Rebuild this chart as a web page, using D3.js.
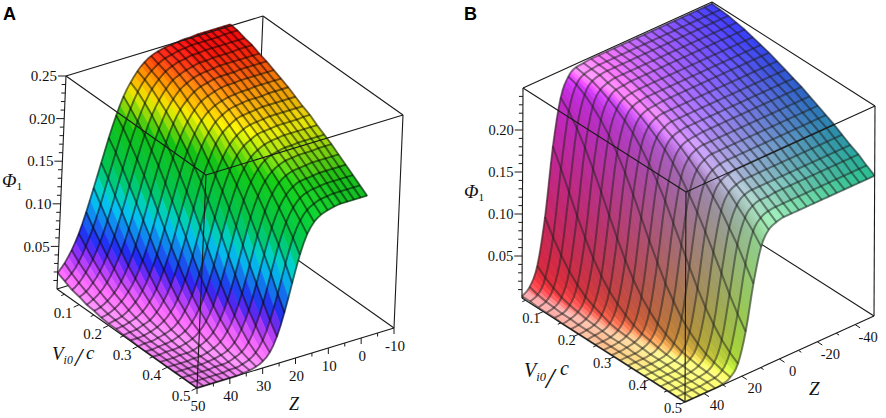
<!DOCTYPE html>
<html>
<head>
<meta charset="utf-8">
<script src="https://cdn.jsdelivr.net/npm/d3@7/dist/d3.min.js"></script>
<style>
html,body{margin:0;padding:0;background:#fff;}
svg{display:block;}
</style>
</head>
<body>
<svg id="chart" width="886" height="418"></svg>
<script>
// ================= DATA =================
// Panel A : Phi1 over (Vi0/c , Z)
const vA = [0.025,0.05,0.075,0.1,0.125,0.15,0.175,0.2,0.225,0.25,0.275,0.3,0.325,0.35,0.375,0.4,0.425,0.45,0.475,0.5];
const zA = [50,48,46,44,42,40,38,36,34,32,30,28,26,24,22,20,18,16,14,12,10,8,6,4,2,0];
const phiA = [
 [0.019,0.028,0.041,0.058,0.081,0.107,0.134,0.161,0.185,0.205,0.219,0.230,0.238,0.243,0.246,0.248,0.249,0.250,0.251,0.251,0.252,0.252,0.252,0.252,0.252,0.252],
 [0.015,0.022,0.033,0.049,0.069,0.094,0.122,0.150,0.176,0.197,0.214,0.226,0.234,0.240,0.244,0.246,0.248,0.249,0.250,0.250,0.250,0.250,0.250,0.251,0.251,0.251],
 [0.011,0.017,0.027,0.040,0.058,0.081,0.108,0.137,0.164,0.188,0.207,0.221,0.230,0.237,0.241,0.244,0.245,0.247,0.247,0.248,0.248,0.248,0.248,0.248,0.248,0.248],
 [0.009,0.013,0.021,0.032,0.048,0.069,0.095,0.123,0.152,0.178,0.199,0.214,0.225,0.233,0.237,0.240,0.242,0.244,0.244,0.245,0.245,0.245,0.245,0.246,0.246,0.246],
 [0.006,0.010,0.016,0.025,0.039,0.057,0.081,0.109,0.139,0.166,0.189,0.207,0.219,0.228,0.233,0.237,0.239,0.240,0.241,0.242,0.242,0.242,0.242,0.242,0.242,0.242],
 [0.005,0.007,0.012,0.019,0.030,0.046,0.068,0.095,0.125,0.154,0.179,0.199,0.213,0.222,0.229,0.233,0.235,0.237,0.238,0.238,0.238,0.239,0.239,0.239,0.239,0.239],
 [0.003,0.005,0.009,0.015,0.024,0.037,0.056,0.081,0.110,0.140,0.167,0.189,0.205,0.216,0.224,0.228,0.231,0.233,0.234,0.234,0.235,0.235,0.235,0.235,0.235,0.235],
 [0.002,0.004,0.006,0.011,0.018,0.029,0.045,0.067,0.095,0.125,0.154,0.179,0.197,0.210,0.218,0.223,0.226,0.228,0.229,0.230,0.230,0.231,0.231,0.231,0.231,0.231],
 [0.002,0.003,0.005,0.008,0.013,0.022,0.035,0.055,0.080,0.110,0.140,0.167,0.188,0.202,0.212,0.218,0.222,0.224,0.225,0.226,0.226,0.226,0.227,0.227,0.227,0.227],
 [0.001,0.002,0.003,0.006,0.009,0.016,0.027,0.043,0.066,0.095,0.126,0.155,0.177,0.195,0.206,0.212,0.217,0.219,0.220,0.221,0.222,0.222,0.222,0.222,0.222,0.222],
 [0.001,0.001,0.002,0.004,0.007,0.012,0.020,0.033,0.053,0.079,0.110,0.140,0.166,0.185,0.198,0.206,0.211,0.214,0.215,0.216,0.217,0.217,0.217,0.217,0.217,0.217],
 [0.000,0.001,0.001,0.003,0.005,0.008,0.014,0.025,0.041,0.064,0.094,0.125,0.154,0.176,0.191,0.200,0.205,0.209,0.210,0.211,0.212,0.212,0.212,0.212,0.213,0.213],
 [0.000,0.000,0.001,0.002,0.003,0.006,0.010,0.018,0.031,0.051,0.078,0.110,0.140,0.165,0.182,0.193,0.199,0.203,0.205,0.206,0.207,0.207,0.207,0.207,0.207,0.207],
 [0.000,0.000,0.001,0.001,0.002,0.004,0.007,0.013,0.023,0.039,0.063,0.093,0.125,0.153,0.172,0.185,0.193,0.197,0.199,0.201,0.201,0.202,0.202,0.202,0.202,0.202],
 [0.000,0.000,0.000,0.001,0.001,0.002,0.005,0.009,0.016,0.029,0.049,0.077,0.109,0.139,0.162,0.177,0.186,0.191,0.194,0.195,0.196,0.196,0.196,0.197,0.197,0.197],
 [0.000,0.000,0.000,0.000,0.001,0.001,0.003,0.006,0.011,0.021,0.037,0.061,0.092,0.124,0.150,0.168,0.179,0.185,0.188,0.189,0.190,0.191,0.191,0.191,0.191,0.191],
 [0.000,0.000,0.000,0.000,0.000,0.001,0.002,0.004,0.007,0.014,0.027,0.047,0.076,0.108,0.137,0.158,0.171,0.178,0.182,0.183,0.184,0.185,0.185,0.185,0.185,0.185],
 [0.000,0.000,0.000,0.000,0.000,0.001,0.001,0.002,0.005,0.009,0.018,0.035,0.060,0.092,0.123,0.147,0.162,0.171,0.175,0.177,0.178,0.179,0.179,0.179,0.179,0.179],
 [0.000,0.000,0.000,0.000,0.000,0.000,0.001,0.001,0.003,0.006,0.012,0.024,0.045,0.074,0.107,0.135,0.153,0.163,0.168,0.171,0.172,0.173,0.173,0.173,0.173,0.173],
 [0.000,0.000,0.000,0.000,0.000,0.000,0.000,0.001,0.002,0.004,0.008,0.016,0.032,0.058,0.090,0.121,0.143,0.155,0.161,0.164,0.166,0.167,0.167,0.167,0.167,0.167]
];
const phiTicksA = [0.05,0.10,0.15,0.20,0.25];
const phiLabelsA = ["0.05","0.10","0.15","0.20","0.25"];
const vTicksA = [0.1,0.2,0.3,0.4,0.5];
const vLabelsA = ["0.1","0.2","0.3","0.4","0.5"];
const zTicksA = [50,40,30,20,10,0,-10];
const zLabelsA = ["50","40","30","20","10","0","-10"];

// Panel B : Phi1 over (Vi0/c , Z)
const vB = [0.04,0.063,0.086,0.109,0.132,0.155,0.178,0.201,0.224,0.247,0.27,0.293,0.316,0.339,0.362,0.385,0.408,0.431,0.454,0.477,0.5];
const zB = [50,46,42,38,34,30,26,22,18,14,10,6,2,-2,-6,-10,-14,-18,-22,-26,-30,-34,-38,-42,-46,-50];
const phiB = [
 [0.002,0.009,0.030,0.084,0.164,0.218,0.239,0.246,0.247,0.248,0.248,0.248,0.248,0.248,0.248,0.248,0.248,0.248,0.248,0.248,0.248,0.248,0.248,0.248,0.248,0.248],
 [0.002,0.006,0.022,0.066,0.144,0.208,0.236,0.244,0.246,0.247,0.247,0.247,0.247,0.247,0.247,0.247,0.247,0.247,0.247,0.247,0.247,0.247,0.247,0.247,0.247,0.247],
 [0.001,0.004,0.016,0.051,0.122,0.194,0.230,0.242,0.245,0.246,0.246,0.246,0.246,0.246,0.246,0.246,0.246,0.246,0.246,0.246,0.246,0.246,0.246,0.246,0.246,0.246],
 [0.001,0.003,0.011,0.038,0.100,0.177,0.222,0.238,0.242,0.244,0.244,0.244,0.244,0.244,0.244,0.244,0.244,0.244,0.244,0.244,0.244,0.244,0.244,0.244,0.244,0.244],
 [0.001,0.002,0.008,0.028,0.080,0.158,0.212,0.233,0.240,0.241,0.242,0.242,0.242,0.242,0.242,0.242,0.242,0.242,0.242,0.242,0.242,0.242,0.242,0.242,0.242,0.242],
 [0.000,0.002,0.006,0.020,0.062,0.137,0.200,0.227,0.236,0.238,0.239,0.239,0.239,0.239,0.239,0.239,0.239,0.239,0.239,0.239,0.239,0.239,0.239,0.239,0.239,0.239],
 [0.000,0.001,0.004,0.015,0.047,0.115,0.185,0.220,0.232,0.235,0.236,0.236,0.236,0.236,0.236,0.236,0.236,0.236,0.236,0.236,0.236,0.236,0.236,0.236,0.236,0.236],
 [0.000,0.001,0.003,0.011,0.035,0.094,0.168,0.211,0.227,0.231,0.232,0.233,0.233,0.233,0.233,0.233,0.233,0.233,0.233,0.233,0.233,0.233,0.233,0.233,0.233,0.233],
 [0.000,0.001,0.002,0.007,0.026,0.074,0.148,0.200,0.221,0.227,0.229,0.229,0.229,0.229,0.229,0.229,0.229,0.229,0.229,0.229,0.229,0.229,0.229,0.229,0.229,0.229],
 [0.000,0.000,0.001,0.005,0.019,0.057,0.127,0.187,0.214,0.222,0.225,0.225,0.225,0.225,0.225,0.225,0.225,0.225,0.225,0.225,0.225,0.225,0.225,0.225,0.225,0.225],
 [0.000,0.000,0.001,0.004,0.013,0.043,0.106,0.172,0.206,0.217,0.220,0.221,0.221,0.221,0.221,0.221,0.221,0.221,0.221,0.221,0.221,0.221,0.221,0.221,0.221,0.221],
 [0.000,0.000,0.001,0.003,0.009,0.032,0.086,0.155,0.196,0.211,0.215,0.216,0.217,0.217,0.217,0.217,0.217,0.217,0.217,0.217,0.217,0.217,0.217,0.217,0.217,0.217],
 [0.000,0.000,0.000,0.002,0.007,0.023,0.067,0.135,0.185,0.204,0.210,0.212,0.212,0.212,0.212,0.212,0.212,0.212,0.212,0.212,0.212,0.212,0.212,0.212,0.212,0.212],
 [0.000,0.000,0.000,0.001,0.005,0.017,0.052,0.115,0.171,0.196,0.204,0.207,0.207,0.207,0.207,0.207,0.207,0.207,0.207,0.207,0.207,0.207,0.207,0.207,0.207,0.207],
 [0.000,0.000,0.000,0.001,0.003,0.012,0.038,0.095,0.156,0.188,0.198,0.201,0.202,0.202,0.202,0.202,0.202,0.202,0.202,0.202,0.202,0.202,0.202,0.202,0.202,0.202],
 [0.000,0.000,0.000,0.001,0.002,0.008,0.028,0.076,0.139,0.177,0.191,0.195,0.197,0.197,0.197,0.197,0.197,0.197,0.197,0.197,0.197,0.197,0.197,0.197,0.197,0.197],
 [0.000,0.000,0.000,0.000,0.002,0.006,0.020,0.059,0.121,0.166,0.184,0.189,0.191,0.191,0.191,0.191,0.191,0.191,0.191,0.191,0.191,0.191,0.191,0.191,0.191,0.191],
 [0.000,0.000,0.000,0.000,0.001,0.004,0.014,0.045,0.102,0.152,0.175,0.183,0.185,0.185,0.185,0.185,0.185,0.185,0.185,0.185,0.185,0.185,0.185,0.185,0.185,0.185],
 [0.000,0.000,0.000,0.000,0.001,0.003,0.010,0.033,0.083,0.138,0.166,0.176,0.179,0.179,0.180,0.180,0.180,0.180,0.180,0.180,0.180,0.180,0.180,0.180,0.180,0.180],
 [0.000,0.000,0.000,0.000,0.001,0.002,0.007,0.024,0.066,0.121,0.156,0.168,0.172,0.173,0.173,0.173,0.173,0.173,0.173,0.173,0.173,0.173,0.173,0.173,0.173,0.173],
 [0.000,0.000,0.000,0.000,0.000,0.001,0.005,0.017,0.051,0.104,0.144,0.160,0.165,0.167,0.167,0.167,0.167,0.167,0.167,0.167,0.167,0.167,0.167,0.167,0.167,0.167]
];
const phiTicksB = [0.05,0.10,0.15,0.20];
const phiLabelsB = ["0.05","0.10","0.15","0.20"];
const vTicksB = [0.1,0.2,0.3,0.4,0.5];
const vLabelsB = ["0.1","0.2","0.3","0.4","0.5"];
const zTicksB = [40,20,0,-20,-40];
const zLabelsB = ["40","20","0","-20","-40"];

// ================= RENDERING =================
const SERIF = '"Liberation Serif","Times New Roman",Times,serif';
const SANS = '"Liberation Sans",Arial,Helvetica,sans-serif';
const svg = d3.select('#chart');
const norm = v => { const l = Math.hypot(v[0],v[1],v[2]) || 1; return [v[0]/l, v[1]/l, v[2]/l]; };
const dot = (a,b) => a[0]*b[0]+a[1]*b[1]+a[2]*b[2];
const clamp01 = x => Math.max(0, Math.min(1, x));

// monotone cubic (same slope rule as d3.curveMonotoneX) used only to draw smooth rows
function monotone(xs, ys, S) {
  const n = xs.length, d = [], m = [];
  for (let j = 0; j < n - 1; j++) d.push((ys[j+1]-ys[j])/(xs[j+1]-xs[j]));
  for (let j = 0; j < n; j++) {
    if (j === 0) m.push(d[0]);
    else if (j === n-1) m.push(d[n-2]);
    else {
      const s0 = d[j-1], s1 = d[j], p = (s0+s1)/2;
      m.push(((Math.sign(s0)+Math.sign(s1)) * Math.min(Math.abs(s0), Math.abs(s1), 0.5*Math.abs(p))) || 0);
    }
  }
  const ox = [], oy = [];
  for (let j = 0; j < n - 1; j++) {
    const hh = xs[j+1]-xs[j];
    for (let t = 0; t < S; t++) {
      const s = t/S, s2 = s*s, s3 = s2*s;
      ox.push(xs[j] + s*hh);
      oy.push((2*s3-3*s2+1)*ys[j] + (s3-2*s2+s)*hh*m[j] + (-2*s3+3*s2)*ys[j+1] + (s3-s2)*hh*m[j+1]);
    }
  }
  ox.push(xs[n-1]); oy.push(ys[n-1]);
  return {x: ox, y: oy};
}

// colour schemes
const hueRamp = d3.scaleLinear()
  .domain([0, 0.08, 0.15, 0.22, 0.4, 0.52, 0.72, 0.84, 0.92, 0.98, 1])
  .range(['#ff86ff', '#f466ff', '#a634ff', '#2626ff', '#00e4ff', '#00d45a', '#14cc14', '#f2f000', '#ff9000', '#ff1400', '#ff0000'])
  .clamp(true);
const LA = norm([0.25,-0.6,0.75]), HA = norm([0.1,-0.3,1]);
function colorA(a, b, h, N) {
  const base = d3.rgb(hueRamp(h));
  const diff = Math.max(0, dot(N, LA));
  const f = 0.5 + 0.52*diff;
  const s = 255*0.1*Math.pow(Math.max(0, dot(N, HA)), 20);
  return d3.rgb(base.r*f+s, base.g*f+s, base.b*f+s).formatRgb();
}
const LB = norm([-0.25,-0.35,1]), HB = norm([0,-0.3,1]);
function colorB(a, b, h, N) {
  const base = [255*(1-b), 255*a*a, 255*Math.min(1,h)];
  const diff = Math.max(0, dot(N, LB));
  const f = (0.6 + 0.3*diff) * (1 - 0.25*a*b);
  const glare = 0.55*Math.pow(Math.max(0, dot(N, HB)), 6)*clamp01(1.15 - 0.95*b - 0.35*a);
  const s = 255*(0.15 + glare);
  return d3.rgb(base[0]*f+s, base[1]*f+s, base[2]*f+s).formatRgb();
}

const panels = [
  { V: vA, Z: zA, phi: phiA, vDom: [0.025, 0.5], zDom: [50, -10], pDom: [0, 0.25],
    O: [57, 289], U: [140, 99], W: [197, -60], H: [9, -213], sub: 2, color: colorA,
    mesh: {c: '#000', o: 0.5, w: 1.9},
    phiT: phiTicksA, phiL: phiLabelsA, vT: vTicksA, vL: vLabelsA, zT: zTicksA, zL: zLabelsA,
    vDir: [-0.9, 0.43], vOff: [-16, 8], zDir: [0, 1], zOff: [1, 18], fs: 15,
    letter: {t: 'A', x: 3, y: 20},
    phiTitle: {x: 2, y: 187, fs: 19},
    vTitle: {x: 52, y: 360, fs: 19, sx: 75, sy: 366, sfs: 26, cx: 86, cy: 359},
    zTitle: {x: 289, y: 410, fs: 18} },
  { V: vB, Z: zB, phi: phiB, vDom: [0.04, 0.5], zDom: [50, -50], pDom: [0, 0.25],
    O: [522, 298], U: [163, 104], W: [189, -86], H: [1, -210], sub: 4, color: colorB,
    mesh: {c: '#1e1e1e', o: 0.5, w: 2.0},
    phiT: phiTicksB, phiL: phiLabelsB, vT: vTicksB, vL: vLabelsB, zT: zTicksB, zL: zLabelsB,
    vDir: [-0.91, 0.41], vOff: [-12, 6], zDir: [0.84, 0.54], zOff: [13, 12], fs: 14.5,
    letter: {t: 'B', x: 464, y: 20},
    phiTitle: {x: 464, y: 198, fs: 19},
    vTitle: {x: 524, y: 377, fs: 20, sx: 546, sy: 388, sfs: 30, cx: 560, cy: 375},
    zTitle: {x: 809, y: 395, fs: 19} }
];

function drawPanel(c) {
  const g = svg.append('g');
  const uS = d3.scaleLinear().domain(c.vDom).range([0, 1]);
  const wS = d3.scaleLinear().domain(c.zDom).range([0, 1]);
  const hS = d3.scaleLinear().domain(c.pDom).range([0, 1]);
  const P = (a, b, h) => [c.O[0] + a*c.U[0] + b*c.W[0] + h*c.H[0], c.O[1] + a*c.U[1] + b*c.W[1] + h*c.H[1]];
  let n = [c.W[0]*c.H[1] - c.H[0]*c.W[1], c.H[0]*c.U[1] - c.U[0]*c.H[1], c.U[0]*c.W[1] - c.W[0]*c.U[1]];
  if (n[2] > 0) n = n.map(x => -x);
  const line = d3.line();

  const gBack = g.append('g'), gSurf = g.append('g'), gMesh = g.append('g'), gFront = g.append('g'), gAx = g.append('g');

  // box
  const verts = [];
  for (const a of [0, 1]) for (const b of [0, 1]) for (const h of [0, 1]) verts.push([a, b, h]);
  const edges = [];
  verts.forEach((p, i) => verts.forEach((q, j) => {
    if (j > i && Math.abs(p[0]-q[0]) + Math.abs(p[1]-q[1]) + Math.abs(p[2]-q[2]) === 1) edges.push([p, q]);
  }));
  const isBack = e => e.some(p => p[0] === 0 && p[1] === 1 && p[2] === 0);
  const drawEdges = (sel, list) => sel.selectAll('line').data(list).join('line')
    .attr('x1', e => P(...e[0])[0]).attr('y1', e => P(...e[0])[1])
    .attr('x2', e => P(...e[1])[0]).attr('y2', e => P(...e[1])[1])
    .attr('stroke', '#1a1a1a').attr('stroke-width', 1.1);
  drawEdges(gBack, edges.filter(isBack));
  drawEdges(gFront, edges.filter(e => !isBack(e)));

  // surface
  const rows = c.phi.map(r => monotone(c.Z, r, c.sub));
  const pts = rows.map((r, i) => r.x.map((z, k) => {
    const a = uS(c.V[i]), b = wS(z), h = hS(r.y[k]);
    return {a, b, h, xy: P(a, b, h)};
  }));
  const quads = [];
  for (let i = 0; i < pts.length - 1; i++) for (let k = 0; k < pts[i].length - 1; k++) {
    const q = [pts[i][k], pts[i+1][k], pts[i+1][k+1], pts[i][k+1]];
    const d1 = [q[2].a-q[0].a, q[2].b-q[0].b, q[2].h-q[0].h];
    const d2 = [q[3].a-q[1].a, q[3].b-q[1].b, q[3].h-q[1].h];
    let N = [d1[1]*d2[2]-d1[2]*d2[1], d1[2]*d2[0]-d1[0]*d2[2], d1[0]*d2[1]-d1[1]*d2[0]];
    if (N[2] < 0) N = N.map(x => -x);
    N = norm(N);
    const ca = d3.mean(q, p => p.a), cb = d3.mean(q, p => p.b), ch = d3.mean(q, p => p.h);
    quads.push({q, depth: n[0]*ca + n[1]*cb, fill: c.color(ca, cb, ch, N)});
  }
  quads.sort((x, y) => y.depth - x.depth);
  gSurf.selectAll('path').data(quads).join('path')
    .attr('d', d => line(d.q.map(p => p.xy)) + 'Z')
    .attr('fill', d => d.fill).attr('stroke', d => d.fill)
    .attr('stroke-width', 0.7).attr('stroke-linejoin', 'round');

  // mesh lines
  const meshPaths = pts.map(r => r.map(p => p.xy));
  c.Z.forEach((z, j) => meshPaths.push(pts.map(r => r[j*c.sub].xy)));
  gMesh.selectAll('path').data(meshPaths).join('path')
    .attr('d', d => line(d)).attr('fill', 'none')
    .attr('stroke', c.mesh.c).attr('stroke-opacity', c.mesh.o).attr('stroke-width', c.mesh.w)
    .attr('stroke-linejoin', 'round');

  const tick = (p, dir, len) => gAx.append('line')
    .attr('x1', p[0]).attr('y1', p[1]).attr('x2', p[0] + dir[0]*len).attr('y2', p[1] + dir[1]*len)
    .attr('stroke', '#1a1a1a').attr('stroke-width', 1);
  const label = (x, y, txt, anchor) => gAx.append('text').attr('x', x).attr('y', y).attr('dy', '0.35em')
    .attr('text-anchor', anchor).attr('font-family', SERIF).attr('font-size', c.fs).attr('fill', '#111').text(txt);

  // Phi axis on the left vertical edge
  const pTop = c.pDom[1];
  hS.ticks(25).filter(t => t > 1e-9 && t < pTop - 1e-9 && !c.phiT.some(m => Math.abs(m - t) < 1e-9))
    .forEach(t => tick(P(0, 0, hS(t)), [-1, 0], 4));
  c.phiT.forEach((t, i) => {
    const p = P(0, 0, hS(t));
    tick(p, [-1, 0], 8);
    label(p[0] - 9, p[1], c.phiL[i], 'end');
  });
  // V axis (front-left bottom edge)
  uS.ticks(10).filter(t => t >= c.vDom[0] && !c.vT.some(m => Math.abs(m - t) < 1e-9))
    .forEach(t => tick(P(uS(t), 0, 0), c.vDir, 3.5));
  c.vT.forEach((t, i) => {
    const p = P(uS(t), 0, 0);
    tick(p, c.vDir, 6);
    label(p[0] + c.vOff[0], p[1] + c.vOff[1], c.vL[i], 'middle');
  });
  // Z axis (front-right bottom edge)
  wS.ticks(12).filter(t => !c.zT.some(m => Math.abs(m - t) < 1e-9) && t !== c.zDom[0] && t !== c.zDom[1])
    .forEach(t => tick(P(1, wS(t), 0), c.zDir, 3.5));
  c.zT.forEach((t, i) => {
    const p = P(1, wS(t), 0);
    tick(p, c.zDir, 6);
    label(p[0] + c.zOff[0], p[1] + c.zOff[1], c.zL[i], 'middle');
  });

  // titles
  const L = c.letter;
  g.append('text').attr('x', L.x).attr('y', L.y).attr('font-family', SANS)
    .attr('font-weight', 'bold').attr('font-size', 18).attr('fill', '#000').text(L.t);
  const pt = c.phiTitle;
  const tp = g.append('text').attr('x', pt.x).attr('y', pt.y).attr('font-size', pt.fs)
    .attr('font-family', SERIF).attr('fill', '#111');
  tp.append('tspan').attr('font-style', 'italic').text('Φ');
  tp.append('tspan').attr('font-size', pt.fs*0.6).attr('dy', 3).text('1');
  const vt = c.vTitle;
  const tv = g.append('text').attr('x', vt.x).attr('y', vt.y).attr('font-size', vt.fs)
    .attr('font-style', 'italic').attr('font-family', SERIF).attr('fill', '#111');
  tv.append('tspan').text('V');
  tv.append('tspan').attr('font-size', vt.fs*0.62).attr('dy', 4).text('i0');
  g.append('text').attr('x', vt.sx).attr('y', vt.sy).attr('font-size', vt.sfs)
    .attr('font-style', 'italic').attr('font-family', SERIF).attr('fill', '#111').text('/');
  g.append('text').attr('x', vt.cx).attr('y', vt.cy).attr('font-size', vt.fs)
    .attr('font-style', 'italic').attr('font-family', SERIF).attr('fill', '#111').text('c');
  const zt = c.zTitle;
  g.append('text').attr('x', zt.x).attr('y', zt.y).attr('font-size', zt.fs).attr('font-style', 'italic')
    .attr('font-family', SERIF).attr('fill', '#111').text('Z');
}

panels.forEach(drawPanel);
</script>
</body>
</html>
